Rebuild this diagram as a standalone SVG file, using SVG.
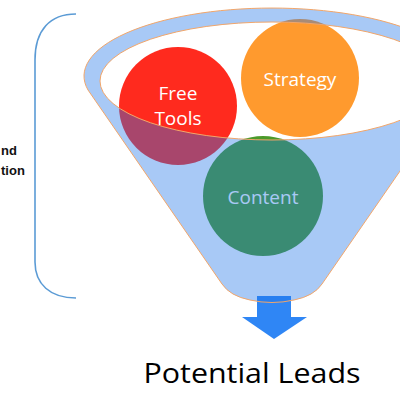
<svg xmlns="http://www.w3.org/2000/svg" width="400" height="400" viewBox="0 0 400 400">
  <style>
    .lbl { font-family: "Open Sans", "Liberation Sans", sans-serif; fill: #ffffff; text-anchor: middle; font-size: 19px; }
    .side { font-family: "Liberation Sans", "Open Sans", sans-serif; font-weight: bold; font-size: 13px; fill: #111111; }
    .title { font-family: "Open Sans", "Liberation Sans", sans-serif; font-size: 27px; fill: #000000; text-anchor: middle; }
  </style>
  <rect width="400" height="400" fill="#ffffff"/>

  <g id="bracket">
    <path d="M 76,14 C 50,14 35,30 35,60 L 35,262 C 35,284 50,298 76,298" fill="none" stroke="#5B9BD5" stroke-width="1.6"/>
  </g>

  <g id="side-label">
    <text class="side" x="1" y="155">nd</text>
    <text class="side" x="1" y="175">tion</text>
  </g>

  <g id="connectors">
    <path d="M 257,296 L 291,296 L 291,317 L 307,317 L 274,339 L 242,317 L 257,317 Z" fill="#2F86F5"/>
  </g>

  <g id="node-strategy">
    <circle cx="300" cy="78" r="59" fill="#FF9A2E"/>
    <text class="lbl" x="300" y="86">Strategy</text>
  </g>

  <g id="node-free-tools">
    <circle cx="178" cy="106" r="59" fill="#FF2A1E"/>
    <text class="lbl" x="178" y="100">Free</text>
    <text class="lbl" x="178" y="125">Tools</text>
  </g>

  <g id="node-content">
    <circle cx="263" cy="196" r="60" fill="#4C9A2A"/>
    <text class="lbl" x="263" y="204">Content</text>
  </g>

  <g id="funnel">
    <path fill-rule="evenodd" fill="rgb(32,116,231)" fill-opacity="0.39" stroke="#F2A66A" stroke-width="1"
      d="M 88,90 L 222,284 Q 230,296 250,300 Q 272,305 294,300 Q 314,296 322,284 L 456,90 A 188 68 0 1 0 88,90 Z
         M 100,81 A 172 59 0 1 0 444,81 A 172 59 0 1 0 100,81 Z"/>
  </g>

  <g id="output">
    <text class="title" x="252" y="383" textLength="217" lengthAdjust="spacingAndGlyphs">Potential Leads</text>
  </g>
</svg>
